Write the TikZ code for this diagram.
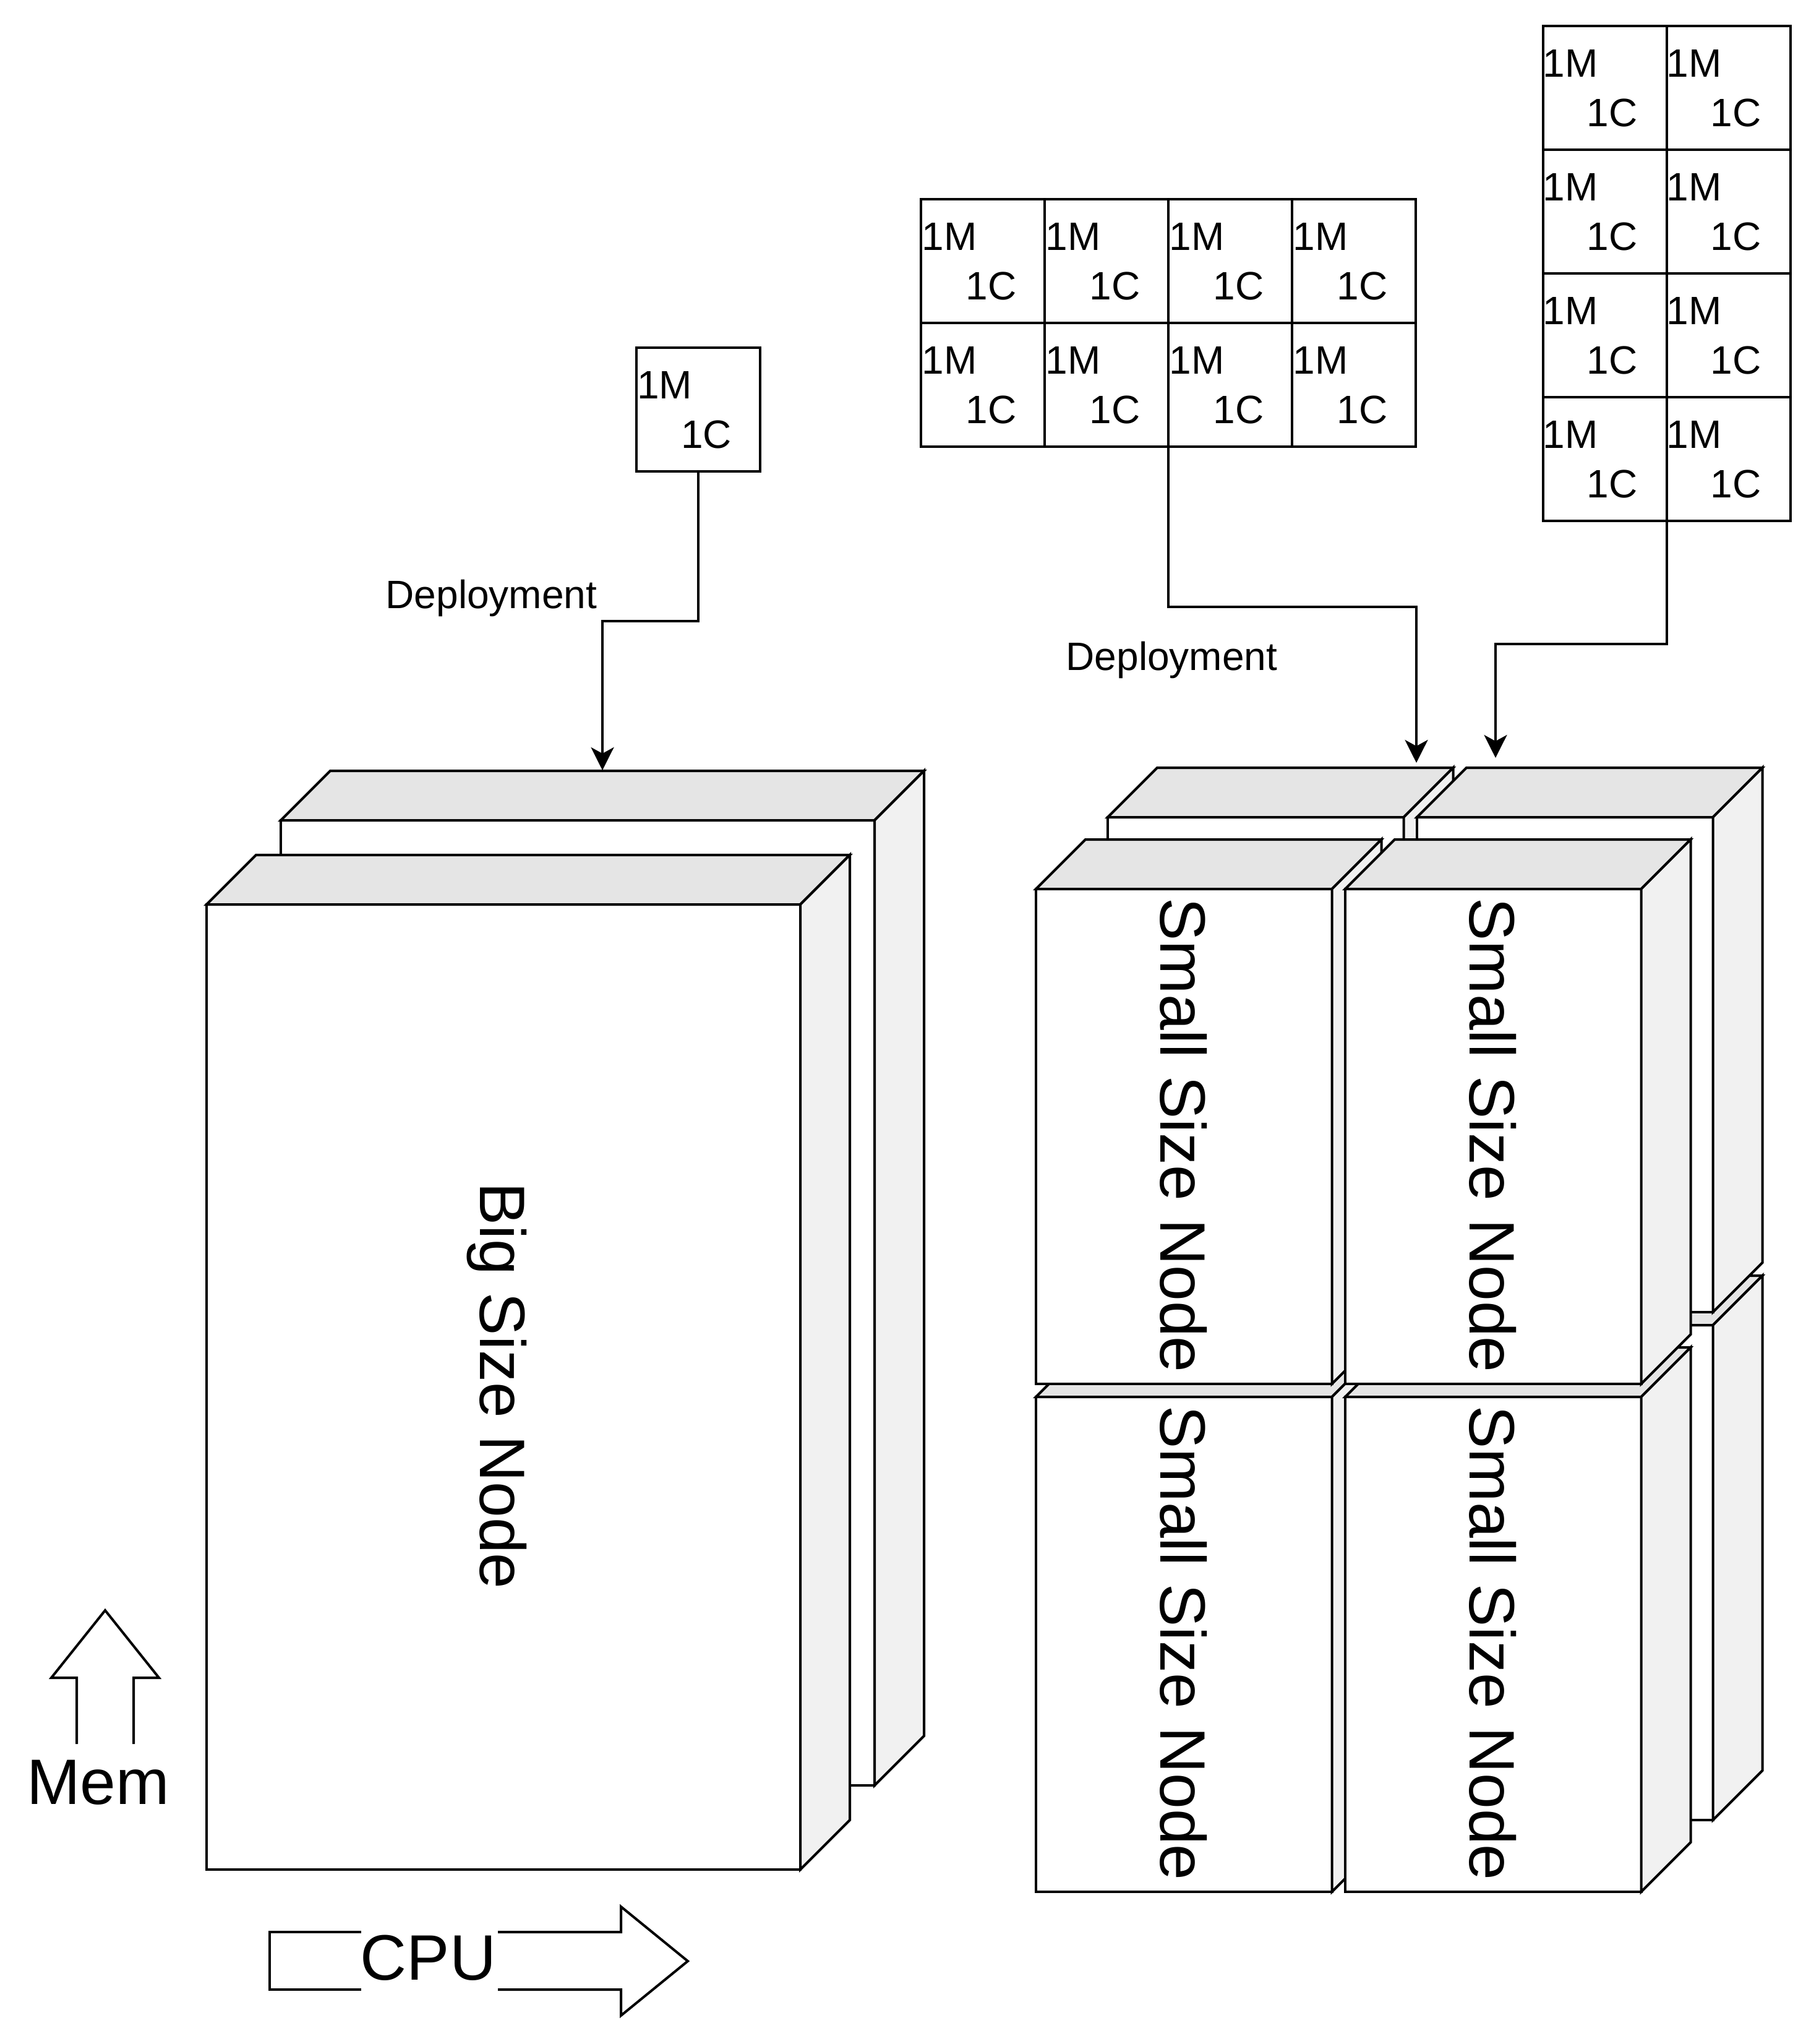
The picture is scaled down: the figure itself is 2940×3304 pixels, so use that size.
\documentclass[tikz,border=0pt]{standalone}
\usepackage{fontspec}
\setmainfont{Liberation Sans}
\usetikzlibrary{calc,arrows.meta}
\definecolor{topgray}{HTML}{E5E5E5}
\definecolor{sidegray}{HTML}{F1F1F1}
\tikzset{
  base line/.style={draw=black,line width=2pt,line join=miter},
  smallface/.style={base line,fill=white,anchor=north west,inner sep=0pt,outer sep=0pt,minimum width=239.25pt,minimum height=400pt},
  bigface/.style={base line,fill=white,anchor=north west,inner sep=0pt,outer sep=0pt,minimum width=480pt,minimum height=780pt},
  topface/.style={base line,fill=topgray},
  sideface/.style={base line,fill=sidegray},
  cellbox/.style={base line,fill=white,anchor=north west,inner sep=0pt,outer sep=0pt,minimum size=100pt},
  celltext/.style={anchor=base west,inner sep=0pt,font=\fontsize{32}{32}\selectfont},
  edgetext/.style={anchor=base,inner sep=0pt,font=\fontsize{32}{32}\selectfont},
  nodetext/.style={anchor=base,inner sep=0pt,rotate=-90,font=\fontsize{51.9}{53}\selectfont},
  axistext/.style={anchor=base,inner sep=0pt,font=\fontsize{51.9}{53}\selectfont},
  connector/.style={base line,-{Stealth[length=18.5pt,width=18.5pt,inset=5pt]}},
  outline/.style={base line}
}
\newcommand{\nodecube}[4]{% name, face style, x, y of front face
  \node[#2] (#1) at (#3,#4) {};
  \draw[topface] (#1.north west) -- ++(80,-80) -- ($(#1.north east)+(80,-80)$) -- (#1.north east) -- cycle;
  \draw[sideface] (#1.north east) -- ++(80,-80) -- ($(#1.south east)+(80,-80)$) -- (#1.south east) -- cycle;
}
\newcommand{\rescell}[4][1]{% text offset, name, x, y
  \node[cellbox] (#2) at (#3,#4) {};
  \node[celltext] (#2m) at ($(#2.north west)+(#1,82)$) {1M};
  \node[celltext] (#2c) at ($(#2.north west)+(71+#1,162)$) {1C};
}
\begin{document}
\begin{tikzpicture}[x=0.5pt,y=-0.5pt]
\useasboundingbox (0,0) rectangle (2940,3304);
\fill[white] (0,0) rectangle (2940,3304);

% big nodes
\nodecube{bigback}{bigface}{454}{1326}
\nodecube{bigfront}{bigface}{334}{1462}

% small nodes, back row
\nodecube{sbl}{smallface}{1791}{2142}
\nodecube{sbr}{smallface}{2291}{2142}
\nodecube{sul}{smallface}{1791}{1321}
\nodecube{sur}{smallface}{2291}{1321}
% small nodes, front row
\nodecube{fbl}{smallface}{1675}{2258}
\nodecube{fbr}{smallface}{2175}{2258}
\nodecube{ful}{smallface}{1675}{1437}
\nodecube{fur}{smallface}{2175}{1437}

% node labels
\node[nodetext] (tbig) at (776,2240) {Big Size Node};
\node[nodetext] (t1) at (1876,1835) {Small Size Node};
\node[nodetext] (t2) at (2376,1835) {Small Size Node};
\node[nodetext] (t3) at (1876,2656) {Small Size Node};
\node[nodetext] (t4) at (2376,2656) {Small Size Node};

% single unit
\rescell{one}{1029}{562}

% 4 x 2 grid
\rescell{a11}{1489}{322}
\rescell{a12}{1689}{322}
\rescell{a13}{1889}{322}
\rescell{a14}{2089}{322}
\rescell{a21}{1489}{522}
\rescell{a22}{1689}{522}
\rescell{a23}{1889}{522}
\rescell{a24}{2089}{522}

% 2 x 4 grid
\rescell[-0.5]{b11}{2494.5}{42}
\rescell[-0.5]{b12}{2694.5}{42}
\rescell[-0.5]{b21}{2494.5}{242}
\rescell[-0.5]{b22}{2694.5}{242}
\rescell[-0.5]{b31}{2494.5}{442}
\rescell[-0.5]{b32}{2694.5}{442}
\rescell[-0.5]{b41}{2494.5}{642}
\rescell[-0.5]{b42}{2694.5}{642}

% connectors
\coordinate (bigin) at (974,1245);
\coordinate (aend) at (2290,1233);
\coordinate (bend) at (2418,1225);
\draw[connector] (one.south) |- (974,1004) -- (bigin);
\draw[connector] (a22.south east) |- (2290,981) -- (aend);
\draw[connector] (b41.south east) |- (2418,1041) -- (bend);

% connector labels
\node[edgetext] (d1) at (794.5,983) {Deployment};
\node[edgetext] (d2) at (1894.5,1083) {Deployment};

% axis arrows
\draw[outline] (124,2819) -- (124,2712) -- (83,2712) -- (170,2603) -- (257,2712) -- (216,2712) -- (216,2819);
\node[axistext] (mem) at (158.5,2916) {Mem};
\draw[outline] (584,3123) -- (436,3123) -- (436,3216) -- (584,3216);
\draw[outline] (805,3123) -- (1004,3123) -- (1004,3082) -- (1112,3170) -- (1004,3258) -- (1004,3216) -- (805,3216);
\node[axistext] (cpu) at (692.5,3200) {CPU};
\end{tikzpicture}
\end{document}
